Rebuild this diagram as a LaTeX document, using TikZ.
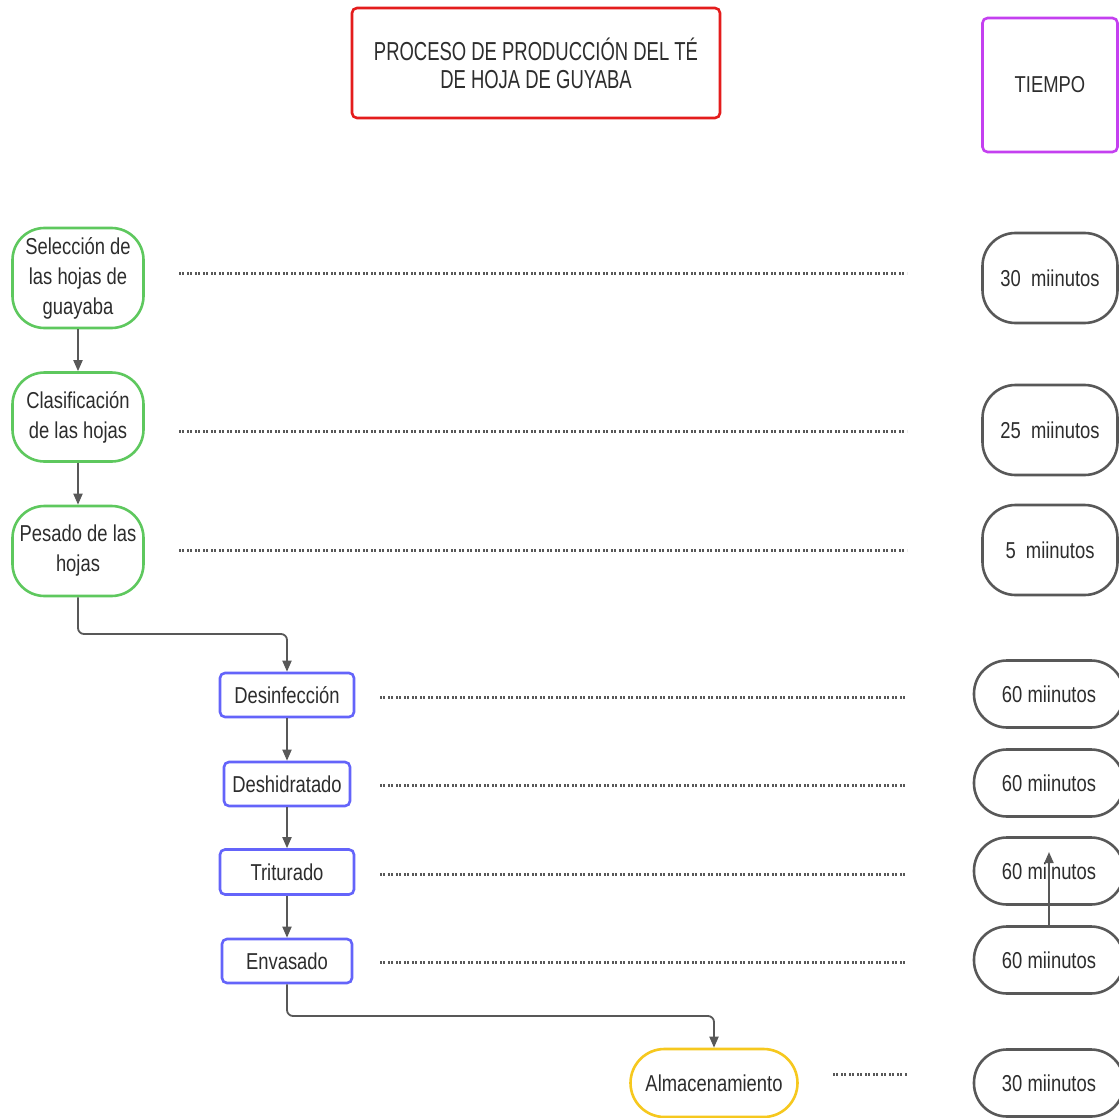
\documentclass[tikz,border=0pt]{standalone}
\usepackage{fontspec}
\setmainfont{Liberation Sans}
\newfontfamily\bodyf{Liberation Sans}[FakeStretch=0.8]
\newfontfamily\titlef{Liberation Sans}[FakeStretch=0.71]
\usetikzlibrary{arrows.meta}
\definecolor{cgreen}{RGB}{94,200,94}
\definecolor{cblue}{RGB}{100,100,250}
\definecolor{cred}{RGB}{228,28,28}
\definecolor{cpurple}{RGB}{196,64,240}
\definecolor{cyellow}{RGB}{246,200,30}
\definecolor{cgray}{RGB}{88,88,88}
\definecolor{ctext}{RGB}{45,45,45}
\begin{document}
\begin{tikzpicture}[x=1pt,y=-1pt,
  base/.style={draw, line width=2.6pt, inner sep=0pt, align=center, text=ctext,
    font=\bodyf\fontsize{23}{30}\selectfont},
  greenbox/.style={base, draw=cgreen, rounded corners=32pt, minimum width=131pt},
  bluebox/.style={base, draw=cblue, rounded corners=5pt, minimum height=44pt},
  timebox/.style={base, draw=cgray, rounded corners=33pt},
  arr/.style={draw=cgray, line width=1.8pt, -{Triangle[length=11pt,width=9pt]}},
  dots/.style={draw=cgray, line width=3pt, dash pattern=on 2.2pt off 1pt on 2.2pt off 2.6pt}
]
\clip (0,0) rectangle (1119,1118);
\fill[white] (0,0) rectangle (1119,1118);

% headers
\node[base, draw=cred, rounded corners=5pt, minimum width=368pt, minimum height=110pt,
  font=\titlef\fontsize{26}{28}\selectfont] (title) at (536,63)
  {PROCESO DE PRODUCCIÓN DEL TÉ\\DE HOJA DE GUYABA};
\node[base, draw=cpurple, rounded corners=5pt, minimum width=135pt, minimum height=134pt] (tiempo) at (1050,85) {TIEMPO};

% green steps
\node[greenbox, minimum height=100pt] (sel) at (78,278) {Selección de\\las hojas de\\guayaba};
\node[greenbox, minimum height=89pt] (cla) at (78,417) {Clasificación\\de las hojas};
\node[greenbox, minimum height=90pt] (pes) at (78,551) {Pesado de las\\hojas};

% blue steps
\node[bluebox, minimum width=134pt] (des) at (287,695) {Desinfección};
\node[bluebox, minimum width=126pt] (deh) at (287,784) {Deshidratado};
\node[bluebox, minimum width=134pt, minimum height=45pt] (tri) at (287,872) {Triturado};
\node[bluebox, minimum width=130pt] (env) at (287,961) {Envasado};

% storage
\node[base, draw=cyellow, rounded corners=34pt, minimum width=167pt, minimum height=68pt] (alm) at (714,1083) {Almacenamiento};

% time boxes
\node[timebox, minimum width=135pt, minimum height=90pt] (t1) at (1050,278) {30\ \ miinutos};
\node[timebox, minimum width=135pt, minimum height=90pt] (t2) at (1050,430) {25\ \ miinutos};
\node[timebox, minimum width=135pt, minimum height=90pt] (t3) at (1050,550) {5\ \ miinutos};
\node[timebox, minimum width=150pt, minimum height=67pt] (t4) at (1049,694) {60 miinutos};
\node[timebox, minimum width=150pt, minimum height=67pt] (t5) at (1049,783) {60 miinutos};
\node[timebox, minimum width=150pt, minimum height=67pt] (t6) at (1049,871) {60 miinutos};
\node[timebox, minimum width=150pt, minimum height=67pt] (t7) at (1049,960) {60 miinutos};
\node[timebox, minimum width=150pt, minimum height=67pt] (t8) at (1049,1083) {30 miinutos};

% flow arrows
\draw[arr] (sel) -- (cla);
\draw[arr] (cla) -- (pes);
\draw[arr, rounded corners=6pt] (pes.south) |- (des.north |- 0,634) -- (des.north);
\draw[arr] (des) -- (deh);
\draw[arr] (deh) -- (tri);
\draw[arr] (tri) -- (env);
\draw[arr, rounded corners=6pt] (env.south) |- (alm.north |- 0,1016) -- (alm.north);
\coordinate (tip) at (1049,852);
\draw[arr] (t7.north) -- (tip);

% dotted leaders
\foreach \n/\xa/\y in {a/179/273, b/179/431, c/179/550, d/380/697, e/380/785, f/380/874, g/380/962, h/833/1074}{
  \coordinate (s\n) at (\xa,\y);
  \coordinate (e\n) at (907,\y);
  \draw[dots] (s\n) -- (e\n);
}
\end{tikzpicture}
\end{document}
